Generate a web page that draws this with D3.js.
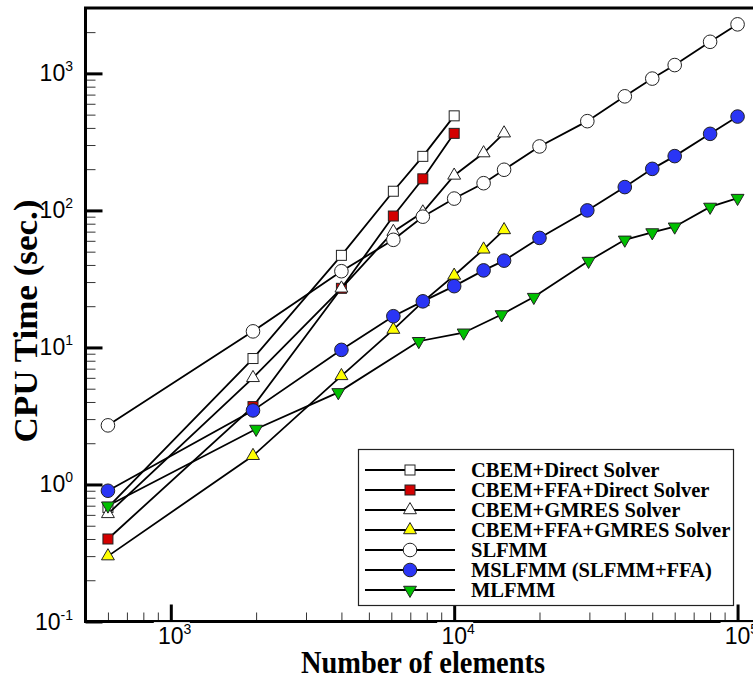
<!DOCTYPE html>
<html>
<head>
<meta charset="utf-8">
<script src="https://cdn.jsdelivr.net/npm/d3@7"></script>
<style>
    body { margin: 0; background: #fff; }
</style>
</head>
<body>
<div id="chart"></div>
<script>
// series data (elements, CPU seconds)
const seriesNames = [
    'CBEM+Direct Solver',
    'CBEM+FFA+Direct Solver',
    'CBEM+GMRES Solver',
    'CBEM+FFA+GMRES Solver',
    'SLFMM',
    'MSLFMM (SLFMM+FFA)',
    'MLFMM'
];

const directN = [600, 1950, 4000, 6100, 7750, 10000];
const directT = [0.68, 8.3, 47, 138, 248, 490];

const ffaDirectN = [600, 1950, 4000, 6100, 7750, 10000];
const ffaDirectT = [0.40, 3.7, 27, 91, 170, 365];

const gmresN = [600, 1950, 4000, 6100, 7750, 10000, 12700, 15000];
const gmresT = [0.61, 6.0, 27, 70, 97, 180, 262, 366];

const ffaGmresN = [600, 1950, 4000, 6100, 7750, 10000, 12700, 15000];
const ffaGmresT = [0.30, 1.62, 6.2, 13.5, 21.5, 33.5, 52, 72];

const slfmmN = [600, 1950, 4000, 6100, 7750, 10000, 12700, 15000, 20000, 29500, 40000, 50000, 60000, 80000, 100000];
const slfmmT = [2.7, 13.1, 36, 61, 90, 122, 158, 198, 293, 448, 680, 916, 1150, 1700, 2280];

const mslfmmN = [600, 1950, 4000, 6100, 7750, 10000, 12700, 15000, 20000, 29500, 40000, 50000, 60000, 80000, 100000];
const mslfmmT = [0.9, 3.47, 9.6, 16.9, 21.7, 28, 36.5, 43, 63, 100, 148, 201, 249, 362, 484];

const mlfmmN = [600, 2000, 3900, 7500, 10800, 14700, 19100, 29800, 40000, 50000, 60000, 80000, 100000];
const mlfmmT = [0.7, 2.54, 4.7, 11.1, 12.8, 17.4, 23.3, 42.7, 61, 69, 76, 106, 123];

const xMajorTicks = [1e3, 1e4, 1e5];
const xMajorExp = ['3', '4', '5'];
const yMajorTicks = [0.1, 1, 10, 100, 1000];
const yMajorExp = ['-1', '0', '1', '2', '3'];

const xTitle = 'Number of elements';
const yTitle = 'CPU Time (sec.)';

const width = 753;
const height = 680;
const plot = {left: 85.5, right: 760, top: 8, bottom: 621.5};

const series = [
    {name: seriesNames[0], n: directN, t: directT, shape: 'square', fill: '#ffffff'},
    {name: seriesNames[1], n: ffaDirectN, t: ffaDirectT, shape: 'square', fill: '#d40000'},
    {name: seriesNames[2], n: gmresN, t: gmresT, shape: 'up', fill: '#ffffff'},
    {name: seriesNames[3], n: ffaGmresN, t: ffaGmresT, shape: 'up', fill: '#ffff00'},
    {name: seriesNames[4], n: slfmmN, t: slfmmT, shape: 'circle', fill: '#ffffff'},
    {name: seriesNames[5], n: mslfmmN, t: mslfmmT, shape: 'circle', fill: '#2a35f5'},
    {name: seriesNames[6], n: mlfmmN, t: mlfmmT, shape: 'down', fill: '#00c000'}
];

const svg = d3.select('#chart').append('svg')
    .attr('width', width)
    .attr('height', height)
    .attr('viewBox', [0, 0, width, height]);

let x = d3.scaleLog()
    .domain([500, 120000])
    .range([plot.left, plot.right]);

let y = d3.scaleLog()
    .domain([0.1, 3000])
    .range([plot.bottom, plot.top]);

// minor tick values
let xMinor = [];
let yMinor = [];
for (let d = 2; d <= 5; d++) {
    for (let k = 2; k <= 9; k++) {
        let v = k * Math.pow(10, d);
        if (v > 500 && v < 120000) xMinor.push(v);
    }
}
for (let d = -1; d <= 3; d++) {
    for (let k = 2; k <= 9; k++) {
        let v = k * Math.pow(10, d);
        if (v < 3000) yMinor.push(v);
    }
}

// minor ticks
svg.append('g')
    .attr('transform', `translate(0, ${plot.bottom})`)
    .call(d3.axisTop(x).tickValues(xMinor).tickSize(9).tickFormat(''))
    .call(g => g.select('.domain').remove())
    .call(g => g.selectAll('line').attr('stroke', '#333').attr('stroke-width', 1));

svg.append('g')
    .attr('transform', `translate(${plot.left}, 0)`)
    .call(d3.axisRight(y).tickValues(yMinor).tickSize(10).tickFormat(''))
    .call(g => g.select('.domain').remove())
    .call(g => g.selectAll('line').attr('stroke', '#333').attr('stroke-width', 1));

// major ticks
svg.append('g')
    .attr('transform', `translate(0, ${plot.bottom})`)
    .call(d3.axisTop(x).tickValues(xMajorTicks).tickSize(17).tickFormat(''))
    .call(g => g.select('.domain').remove())
    .call(g => g.selectAll('line').attr('stroke', '#000').attr('stroke-width', 3));

svg.append('g')
    .attr('transform', `translate(${plot.left}, 0)`)
    .call(d3.axisRight(y).tickValues(yMajorTicks).tickSize(17).tickFormat(''))
    .call(g => g.select('.domain').remove())
    .call(g => g.selectAll('line').attr('stroke', '#000').attr('stroke-width', 3));

// frame (left, top, bottom)
svg.append('path')
    .attr('d', `M${plot.right},${plot.top}H${plot.left}V${plot.bottom}H${plot.right}`)
    .attr('fill', 'none')
    .attr('stroke', '#000')
    .attr('stroke-width', 3);

// x tick labels with a little white box that eats into the axis line
let xLabels = svg.append('g')
    .selectAll('g')
    .data(xMajorTicks)
    .join('g')
    .attr('transform', d => `translate(${x(d)}, 0)`);

xLabels.append('rect')
    .attr('x', -17)
    .attr('y', plot.bottom + 0.6)
    .attr('width', 36)
    .attr('height', 6)
    .attr('fill', '#fff');

let xText = xLabels.append('text')
    .attr('x', -12.8)
    .attr('y', 644)
    .attr('font-family', 'Liberation Sans, Arial, sans-serif')
    .attr('font-size', 23)
    .attr('fill', '#000');
xText.append('tspan').text('10');
xText.append('tspan')
    .attr('font-size', 14)
    .attr('dy', -10)
    .text((d, i) => xMajorExp[i]);

let yText = svg.append('g')
    .selectAll('text')
    .data(yMajorTicks)
    .join('text')
    .attr('x', 73)
    .attr('y', d => y(d) + 8)
    .attr('text-anchor', 'end')
    .attr('font-family', 'Liberation Sans, Arial, sans-serif')
    .attr('font-size', 23)
    .attr('fill', '#000');
yText.append('tspan').text('10');
yText.append('tspan')
    .attr('font-size', 14)
    .attr('dy', -10)
    .text((d, i) => yMajorExp[i]);

// axis titles (the original font is tall and narrow, so squeeze it)
svg.append('text')
    .attr('x', 423)
    .attr('y', 673)
    .attr('text-anchor', 'middle')
    .attr('font-family', 'Liberation Serif, Times New Roman, serif')
    .attr('font-weight', 'bold')
    .attr('font-size', 31)
    .attr('textLength', 244)
    .attr('lengthAdjust', 'spacingAndGlyphs')
    .text(xTitle);

svg.append('text')
    .attr('transform', 'translate(37, 321) rotate(-90)')
    .attr('text-anchor', 'middle')
    .attr('font-family', 'Liberation Serif, Times New Roman, serif')
    .attr('font-weight', 'bold')
    .attr('font-size', 34)
    .attr('textLength', 243)
    .attr('lengthAdjust', 'spacingAndGlyphs')
    .text(yTitle);

function drawMarker(g, shape, fill) {
    if (shape === 'square') {
        g.append('rect')
            .attr('x', -5).attr('y', -5)
            .attr('width', 10).attr('height', 10)
            .attr('fill', fill).attr('stroke', '#222').attr('stroke-width', 1);
    } else if (shape === 'circle') {
        g.append('circle')
            .attr('r', 6.8)
            .attr('fill', fill).attr('stroke', '#222').attr('stroke-width', 1);
    } else {
        g.append('path')
            .attr('d', d3.symbol(d3.symbolTriangle, 72)())
            .attr('transform', shape === 'down' ? 'rotate(180)' : null)
            .attr('fill', fill).attr('stroke', '#222').attr('stroke-width', 1);
    }
}

let line = d3.line()
    .x(d => x(d[0]))
    .y(d => y(d[1]));

// each series: line, then its markers
for (let s of series) {
    let pts = s.n.map((n, i) => [n, s.t[i]]);
    let g = svg.append('g');
    g.append('path')
        .attr('d', line(pts))
        .attr('fill', 'none')
        .attr('stroke', '#000')
        .attr('stroke-width', 1.8);
    g.selectAll('g')
        .data(pts)
        .join('g')
        .attr('transform', d => `translate(${x(d[0])}, ${y(d[1])})`)
        .each(function() { drawMarker(d3.select(this), s.shape, s.fill); });
}

// legend
let legend = svg.append('g');
legend.append('rect')
    .attr('x', 358.5).attr('y', 449.5)
    .attr('width', 375).attr('height', 156)
    .attr('fill', '#fff')
    .attr('stroke', '#222')
    .attr('stroke-width', 1.2);

let rows = legend.selectAll('g')
    .data(series)
    .join('g')
    .attr('transform', (d, i) => `translate(0, ${470 + i * 20})`);

rows.append('line')
    .attr('x1', 365).attr('x2', 455)
    .attr('stroke', '#000')
    .attr('stroke-width', 1.8);

rows.append('g')
    .attr('transform', 'translate(410, 0)')
    .each(function(d) { drawMarker(d3.select(this), d.shape, d.fill); });

rows.append('text')
    .attr('x', 471)
    .attr('y', 7)
    .attr('font-family', 'Liberation Serif, Times New Roman, serif')
    .attr('font-weight', 'bold')
    .attr('font-size', 20.5)
    .text(d => d.name);
</script>
</body>
</html>
